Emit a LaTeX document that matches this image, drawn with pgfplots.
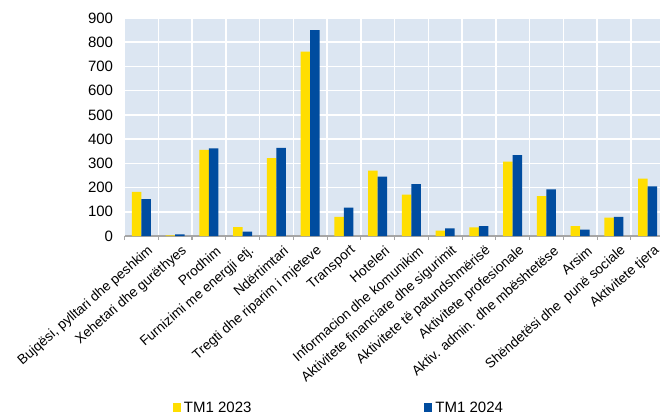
\documentclass[border=0pt]{standalone}
\usepackage{fontspec}
\setmainfont{Liberation Sans}
\usepackage{pgfplots}
\pgfplotsset{compat=1.18}
\definecolor{ylw}{HTML}{FFDE00}
\definecolor{blu}{HTML}{004C9F}
\definecolor{bg}{HTML}{DCE6F2}
\definecolor{axgray}{HTML}{A6A6A6}

\begin{document}
\begin{tikzpicture}
\begin{axis}[
  at={(0,0)}, anchor=south west,
  scale only axis, width=540bp, height=218bp,
  xmin=-0.5, xmax=15.5, ymin=0, ymax=900,
  ybar=0pt, bar width=9.5bp,
  axis background/.style={fill=bg},
  axis lines*=left,
  y axis line style={draw=none},
  x axis line style={axgray, line width=1.2bp},
  ytick={0,100,...,900},
  ymajorgrids,
  major grid style={white, line width=1.6bp},
  minor grid style={white, line width=1.6bp},
  xtick={0,...,15},
  minor xtick={-0.5,0.5,...,15.5},
  xminorgrids,
  major tick length=0pt,
  minor tick length=4bp,
  tick align=outside,
  minor tick style={axgray, line width=1.2bp},
  /pgf/number format/assume math mode=true,
  yticklabel style={font=\fontsize{15bp}{17bp}\selectfont, xshift=-8bp},
  xticklabel style={rotate=41, anchor=east, font=\fontsize{13.7bp}{16bp}\selectfont, inner sep=1bp, yshift=-16bp, xshift=0bp},
  xticklabels={{Bujqësi, pylltari dhe peshkim}, Xehetari dhe gurëthyes, Prodhim, Furnizimi me energji etj., Ndërtimtari, Tregti dhe riparim i mjeteve, Transport, Hoteleri, Informacion dhe komunikim, Aktivitete financiare dhe sigurimit, Aktivitete të patundshmërisë, Aktivitete profesionale, Aktiv. admin. dhe mbështetëse, Arsim, Shëndetësi dhe\ \ punë sociale, Aktivitete tjera},
  legend style={at={(0.397,-0.789)}, anchor=center, draw=none, fill=none,
    font=\fontsize{15bp}{17bp}\selectfont,
    /tikz/every odd column/.append style={column sep=1bp},
    /tikz/every even column/.append style={column sep=171bp}},
  legend columns=2,
  legend image code/.code={\fill[#1] (0bp,-4.5bp) rectangle (8bp,4.5bp);},
]
\addplot[fill=ylw, draw=none] coordinates {
 (0,182) (1,3) (2,356) (3,37) (4,322) (5,761) (6,79) (7,270)
 (8,171) (9,22) (10,36) (11,307) (12,165) (13,41) (14,76) (15,237)};
\addplot[fill=blu, draw=none] coordinates {
 (0,152) (1,7) (2,362) (3,18) (4,364) (5,850) (6,117) (7,245)
 (8,214) (9,32) (10,41) (11,334) (12,192) (13,26) (14,79) (15,205)};
\addlegendentry{TM1 2023}
\addlegendentry{TM1 2024}
\end{axis}
\pgfresetboundingbox
\useasboundingbox (-124.6bp,-181bp) rectangle (535.4bp,236bp);
\end{tikzpicture}
\end{document}
